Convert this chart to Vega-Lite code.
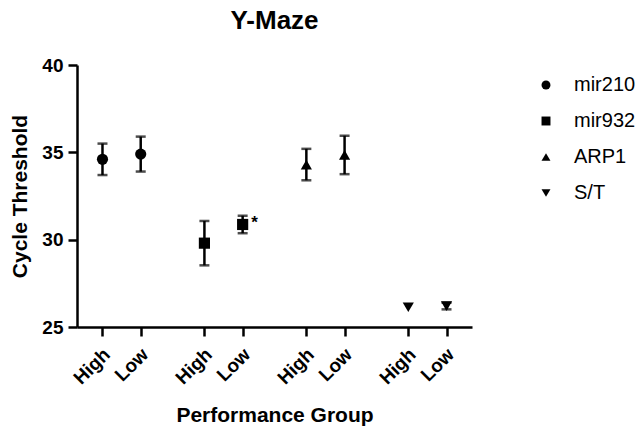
{
  "$schema": "https://vega.github.io/schema/vega-lite/v6.json",
  "autosize": "none",
  "width": 395,
  "height": 262,
  "padding": {"left": 77, "top": 65, "right": 169, "bottom": 100},
  "background": "white",
  "config": {
    "font": "Liberation Sans",
    "view": {"stroke": null},
    "axis": {"grid": false, "domainColor": "black", "domainWidth": 2.5, "tickColor": "black", "tickWidth": 2.5, "tickSize": 9, "labelColor": "black", "titleColor": "black", "labelFont": "Liberation Sans", "titleFont": "Liberation Sans", "labelFontWeight": "bold", "titleFontWeight": "bold"}
  },
  "title": {"text": "Y-Maze", "fontSize": 26, "fontWeight": "bold", "font": "Liberation Sans", "color": "black", "anchor": "middle", "offset": 22},
  "data": {"values": [
    {"gene": "mir210", "group": "High", "cond": "mir210 High", "ct": 34.6, "sem": 0.9, "sig": ""},
    {"gene": "mir210", "group": "Low", "cond": "mir210 Low", "ct": 34.9, "sem": 1.0, "sig": ""},
    {"gene": "mir932", "group": "High", "cond": "mir932 High", "ct": 29.8, "sem": 1.27, "sig": ""},
    {"gene": "mir932", "group": "Low", "cond": "mir932 Low", "ct": 30.87, "sem": 0.5, "sig": "*"},
    {"gene": "ARP1", "group": "High", "cond": "ARP1 High", "ct": 34.3, "sem": 0.9, "sig": ""},
    {"gene": "ARP1", "group": "Low", "cond": "ARP1 Low", "ct": 34.85, "sem": 1.1, "sig": ""},
    {"gene": "S/T", "group": "High", "cond": "S/T High", "ct": 26.13, "sem": 0.05, "sig": ""},
    {"gene": "S/T", "group": "Low", "cond": "S/T Low", "ct": 26.2, "sem": 0.19, "sig": ""}
  ]},
  "encoding": {
    "x": {
      "field": "cond", "type": "nominal",
      "scale": {"type": "point", "padding": 1, "domain": ["_0","mir210 High","_1","_2","mir210 Low","_3","_4","_5","_6","mir932 High","_7","_8","mir932 Low","_9","_10","_11","_12","ARP1 High","_13","_14","ARP1 Low","_15","_16","_17","_18","S/T High","_19","_20","S/T Low","_21"]},
      "axis": {
        "values": ["mir210 High","mir210 Low","mir932 High","mir932 Low","ARP1 High","ARP1 Low","S/T High","S/T Low"],
        "labelExpr": "indexof(datum.value, 'High') >= 0 ? 'High' : 'Low'",
        "labelAngle": -45, "labelAlign": "right", "labelBaseline": "middle", "labelFontSize": 19, "labelPadding": 15, "labelOffset": 4,
        "title": "Performance Group", "titleFontSize": 21, "titlePadding": 17
      }
    }
  },
  "layer": [
    {
      "transform": [{"filter": "datum.sem >= 0.1"}],
      "mark": {"type": "errorbar", "ticks": {"size": 10, "thickness": 2.5, "color": "black"}, "rule": {"strokeWidth": 2.5}, "thickness": 2.5, "color": "black"},
      "encoding": {
        "y": {"field": "ct", "type": "quantitative", "scale": {"domain": [25, 40], "zero": false, "nice": false},
          "axis": {"values": [25, 30, 35, 40], "labelFontSize": 19, "labelPadding": 5, "title": "Cycle Threshold", "titleFontSize": 21, "titlePadding": 11}},
        "yError": {"field": "sem"}
      }
    },
    {
      "mark": {"type": "point", "filled": true, "size": 125, "color": "black", "opacity": 1},
      "encoding": {
        "y": {"field": "ct", "type": "quantitative"},
        "shape": {"field": "gene", "type": "nominal",
          "scale": {"domain": ["mir210", "mir932", "ARP1", "S/T"], "range": ["circle", "square", "triangle-up", "triangle-down"]},
          "legend": {"title": null, "orient": "none", "legendX": 459, "legendY": 10, "labelFontSize": 20, "labelFont": "Liberation Sans", "labelColor": "black", "symbolSize": 80, "symbolFillColor": "black", "symbolStrokeColor": "black", "rowPadding": 16, "labelOffset": 18}}
      }
    },
    {
      "mark": {"type": "text", "dx": 12, "dy": -1, "fontSize": 17, "fontWeight": "bold", "color": "black", "align": "center"},
      "encoding": {
        "y": {"field": "ct", "type": "quantitative"},
        "text": {"field": "sig"}
      }
    }
  ]
}
